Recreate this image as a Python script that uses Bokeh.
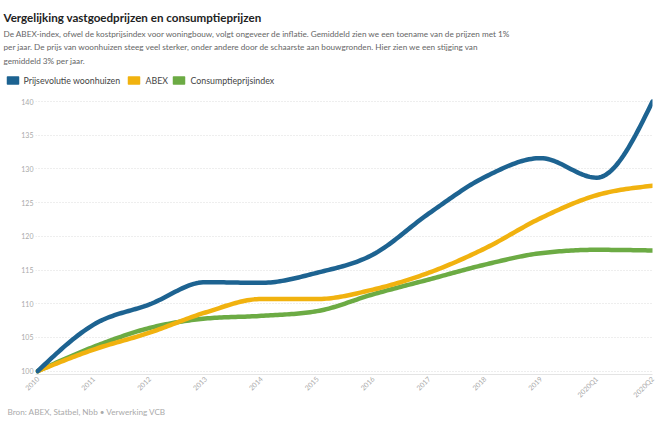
import math
import numpy as np
from bokeh.plotting import figure
from bokeh.layouts import column, row
from bokeh.models import Label, FixedTicker, Range1d
from bokeh.embed import file_html
from bokeh.resources import INLINE

periods = ["2010", "2011", "2012", "2013", "2014", "2015", "2016", "2017",
           "2018", "2019", "2020Q1", "2020Q2"]
woonhuizen = [100, 106.9, 109.9, 113.2, 113.1, 114.6, 117.3, 123.4, 128.8, 131.6, 128.7, 140.0]
abex = [100, 103.2, 105.7, 108.7, 110.7, 110.7, 112.1, 114.6, 118.2, 122.7, 126.1, 127.5]
cpi = [100, 103.6, 106.4, 107.8, 108.2, 108.9, 111.4, 113.6, 115.8, 117.5, 118.0, 117.9]
y_ticks = [100, 105, 110, 115, 120, 125, 130, 135, 140]
series_names = ["Prijsevolutie woonhuizen", "ABEX", "Consumptieprijsindex"]
colors = ["#1d6391", "#f1b20f", "#6cab44"]

title_text = "Vergelijking vastgoedprijzen en consumptieprijzen"
subtitle_lines = [
    "De ABEX-index, ofwel de kostprijsindex voor woningbouw, volgt ongeveer de inflatie. Gemiddeld zien we een toename van de prijzen met 1%",
    "per jaar. De prijs van woonhuizen steeg veel sterker, onder andere door de schaarste aan bouwgronden. Hier zien we een stijging van",
    "gemiddeld 3% per jaar.",
]
source_text = "Bron: ABEX, Statbel, Nbb \u2022 Verwerking VCB"

FONT = "Lato"


def monotone(xs, ys, n=24):
    """Monotone cubic (d3 curveMonotoneX-like) smoothing for display."""
    xs = np.asarray(xs, float)
    ys = np.asarray(ys, float)
    m = len(xs)
    h = np.diff(xs)
    s = np.diff(ys) / h
    t = np.zeros(m)
    for i in range(1, m - 1):
        s0, s1 = s[i - 1], s[i]
        p_ = (s0 * h[i] + s1 * h[i - 1]) / (h[i - 1] + h[i])
        t[i] = (np.sign(s0) + np.sign(s1)) * min(abs(s0), abs(s1), 0.5 * abs(p_))
    t[0] = (3 * s[0] - t[1]) / 2
    t[-1] = (3 * s[-1] - t[-2]) / 2
    ox, oy = [], []
    for i in range(m - 1):
        u = np.linspace(0, 1, n, endpoint=(i == m - 2))
        hh = h[i]
        h00 = 2 * u**3 - 3 * u**2 + 1
        h10 = u**3 - 2 * u**2 + u
        h01 = -2 * u**3 + 3 * u**2
        h11 = u**3 - u**2
        ox.extend(xs[i] + u * hh)
        oy.extend(h00 * ys[i] + h10 * hh * t[i] + h01 * ys[i + 1] + h11 * hh * t[i + 1])
    return ox, oy


def blank(width, height):
    f = figure(width=width, height=height, output_backend="svg", toolbar_location=None,
               x_axis_type=None, y_axis_type=None, title_location=None,
               x_range=Range1d(0, width), y_range=Range1d(height, 0),
               min_border=0, min_border_left=0, min_border_right=0,
               min_border_top=0, min_border_bottom=0)
    f.grid.visible = False
    f.outline_line_color = None
    f.border_fill_color = "white"
    f.background_fill_color = "white"
    return f


W = 660
HH, CH, FH = 88, 316, 20

# ---------- header (title, subtitle, legend) ----------
hdr = blank(W, HH)
hdr.add_layout(Label(x=3, y=17, text=title_text, text_font=FONT, text_font_style="bold",
                     text_font_size="11.6px", text_color="#222222", text_baseline="middle"))
for k, line in enumerate(subtitle_lines):
    hdr.add_layout(Label(x=3, y=33.5 + 13.4 * k, text=line, text_font=FONT,
                         text_font_size="8.2px", text_color="#666666", text_baseline="middle"))

sw_left = [7, 128, 173]
txt_left = [23, 145, 190]
for name, c, sl, tl in zip(series_names, colors, sw_left, txt_left):
    hdr.quad(left=[sl], right=[sl + 11], top=[76.5], bottom=[83.5], fill_color=c,
             line_color=c, line_join="round", line_width=1.5)
    hdr.add_layout(Label(x=tl, y=80, text=name, text_font=FONT, text_font_size="8.8px",
                         text_color="#444444", text_baseline="middle"))

# ---------- chart ----------
p = figure(width=W, height=CH, output_backend="svg", toolbar_location=None, title_location=None,
           x_range=Range1d(-0.04, len(periods) - 1), y_range=Range1d(99.5, 140.6),
           min_border_left=35, min_border_right=8, min_border_top=9, min_border_bottom=29)
p.outline_line_color = None
p.background_fill_color = "white"
p.border_fill_color = "white"

xi = list(range(len(periods)))
for ys, c in zip([cpi, abex, woonhuizen], colors[::-1]):
    sx, sy = monotone(xi, ys)
    p.line(sx, sy, line_color=c, line_width=4.5, line_cap="round", line_join="round")

p.xaxis.ticker = FixedTicker(ticks=xi)
p.xaxis.major_label_overrides = {i: lab for i, lab in enumerate(periods)}
p.xaxis.major_label_orientation = math.pi / 4
p.xaxis.major_label_text_font = FONT
p.xaxis.major_label_text_font_size = "7px"
p.xaxis.major_label_text_color = "#aaaaaa"
p.xaxis.major_tick_line_color = None
p.xaxis.major_tick_out = 0
p.xaxis.minor_tick_line_color = None
p.xaxis.axis_line_color = "#e4e4e4"
p.xaxis.major_label_standoff = 3

p.yaxis.ticker = FixedTicker(ticks=y_ticks)
p.yaxis.major_label_text_font = FONT
p.yaxis.major_label_text_font_size = "7px"
p.yaxis.major_label_text_color = "#aaaaaa"
p.yaxis.major_tick_line_color = None
p.yaxis.major_tick_out = 0
p.yaxis.minor_tick_line_color = None
p.yaxis.axis_line_color = None
p.yaxis.major_label_standoff = 2

p.xgrid.grid_line_color = None
p.ygrid.grid_line_color = "#dddddd"
p.ygrid.grid_line_dash = "1 2"

# ---------- footer (source) ----------
ftr = blank(W, FH)
ftr.add_layout(Label(x=7, y=7.5, text=source_text, text_font=FONT, text_font_size="8.2px",
                     text_color="#aaaaaa", text_baseline="middle"))

layout = column(row(hdr), p, row(ftr), spacing=0)
open("out.html", "w").write(file_html(layout, INLINE))
